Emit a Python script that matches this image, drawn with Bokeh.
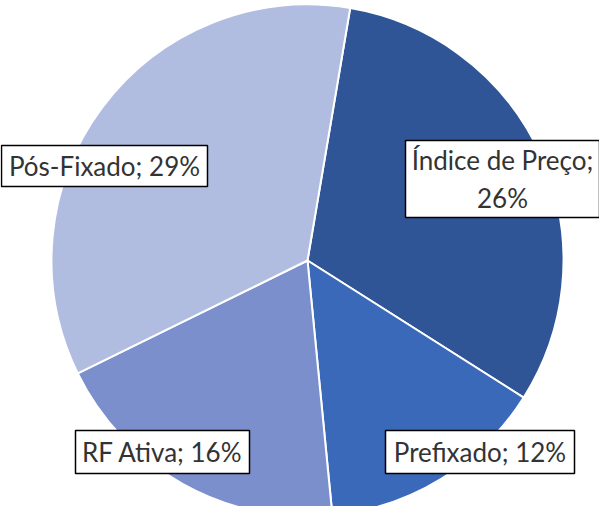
import math
from bokeh.plotting import figure
from bokeh.models import Range1d, ColumnDataSource
from bokeh.core.properties import value
from bokeh.embed import file_html
from bokeh.resources import INLINE

# ---- data ----
categories = ["Índice de Preço", "Prefixado", "RF Ativa", "Pós-Fixado"]
shares = [26, 12, 16, 29]
colors = ["#2F5597", "#3A69B9", "#7B8FCD", "#B1BDE0"]

# ---- layout constants (pixels) ----
W, H = 599, 506
CX, CY, R = 307, 246, 256
START_CW_DEG = 9.6  # first slice starts this many degrees clockwise from 12 o'clock

# label boxes: centre x, centre y (from top of figure), width, height
label_boxes = [
    (502, 178.5, 194, 77),    # Índice de Preço
    (479.5, 451.5, 189, 43),  # Prefixado
    (162, 451.5, 174, 43),    # RF Ativa
    (104, 165.5, 206, 41),    # Pós-Fixado
]

p = figure(width=W, height=H, x_range=Range1d(0, W), y_range=Range1d(0, H),
           output_backend="svg", toolbar_location=None, min_border=0)
p.axis.visible = False
p.grid.visible = False
p.outline_line_color = None
p.background_fill_color = "white"
p.border_fill_color = "white"

total = sum(shares)
starts, ends = [], []
acc = START_CW_DEG
for s in shares:
    span = 360.0 * s / total
    starts.append(math.radians(90 - acc))
    ends.append(math.radians(90 - acc - span))
    acc += span

src = ColumnDataSource(dict(start=starts, end=ends, color=colors, cat=categories, share=shares))
p.wedge(x=CX, y=CY, radius=R, start_angle="start", end_angle="end", direction="clock",
        fill_color="color", line_color="white", line_width=2, source=src)

# boxes
bx = [b[0] for b in label_boxes]
by = [H - b[1] for b in label_boxes]
bw = [b[2] for b in label_boxes]
bh = [b[3] for b in label_boxes]
p.rect(x=bx, y=by, width=bw, height=bh, fill_color="white", line_color="black", line_width=1.5)

# texts
tx, ty, tt = [], [], []
for i, (c, s) in enumerate(zip(categories, shares)):
    if i == 0:
        tx += [bx[i], bx[i]]
        ty += [by[i] + 19, by[i] - 19]
        tt += [f"{c};", f"{s}%"]
    else:
        tx.append(bx[i]); ty.append(by[i]); tt.append(f"{c}; {s}%")
p.text(x=tx, y=ty, text=tt, text_align="center", text_baseline="middle",
       text_font=value("Lato"), text_font_size="26px", text_color="#333333")

open("out.html", "w").write(file_html(p, INLINE))
